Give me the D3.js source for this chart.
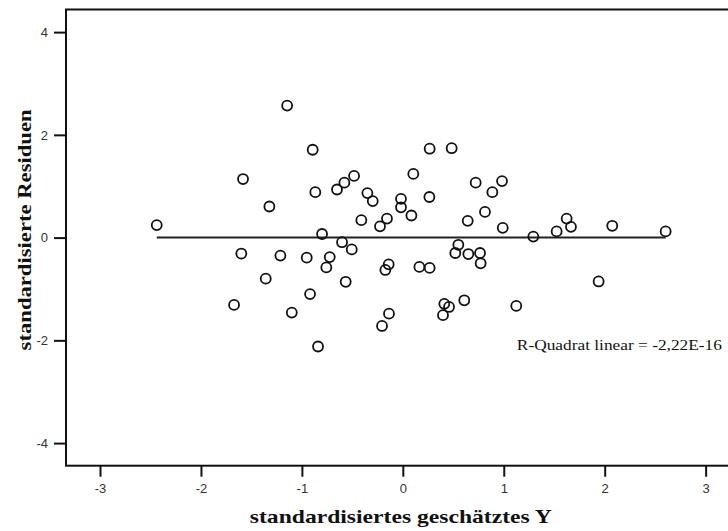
<!DOCTYPE html>
<html>
<head>
<meta charset="utf-8">
<script src="https://cdn.jsdelivr.net/npm/d3@7"></script>
<style>
  html, body { margin: 0; padding: 0; background: #fff; }
  svg { display: block; }
</style>
</head>
<body>
<svg id="chart" width="728" height="531"></svg>
<script>
// ---- data ----
const predicted = [
  -2.438, -1.672, -1.600, -1.583, -1.358, -1.322, -1.213, -1.146, -1.100, -0.952,
  -0.919, -0.893, -0.867, -0.840, -0.800, -0.758, -0.724, -0.652, -0.602, -0.579,
  -0.566, -0.506, -0.483, -0.411, -0.351, -0.298, -0.226, -0.206, -0.173, -0.157,
  -0.140, -0.137, -0.018, -0.018, 0.085, 0.104, 0.164, 0.263, 0.266, 0.266,
  0.398, 0.411, 0.458, 0.484, 0.520, 0.550, 0.609, 0.643, 0.649, 0.722,
  0.765, 0.771, 0.814, 0.887, 0.983, 0.990, 1.124, 1.293, 1.524, 1.623,
  1.666, 1.940, 2.075, 2.604
];
const residuals = [
  0.243, -1.310, -0.310, 1.140, -0.800, 0.605, -0.350, 2.570, -1.460, -0.390,
  -1.100, 1.710, 0.885, -2.120, 0.070, -0.580, -0.380, 0.936, -0.090, 1.070,
  -0.860, -0.230, 1.200, 0.340, 0.866, 0.710, 0.220, -1.720, -0.630, 0.370,
  -0.520, -1.480, 0.755, 0.590, 0.430, 1.240, -0.570, 0.790, 1.730, -0.590,
  -1.510, -1.290, -1.350, 1.740, -0.300, -0.140, -1.220, 0.327, -0.320, 1.070,
  -0.300, -0.500, 0.500, 0.885, 1.100, 0.190, -1.330, 0.020, 0.120, 0.370,
  0.210, -0.854, 0.230, 0.120
];
const xTicks = [-3, -2, -1, 0, 1, 2, 3];
const yTicks = [-4, -2, 0, 2, 4];
const xTitle = "standardisiertes geschätztes Y";
const yTitle = "standardisierte Residuen";
const fitLabel = "R-Quadrat linear = -2,22E-16";
const fitLine = { intercept: 0, slope: 0 };

// ---- layout ----
const svg = d3.select("#chart");
const x = d3.scaleLinear().domain([-3.337, 3.40]).range([66, 746]);
const y = d3.scaleLinear().domain([-4.44, 4.44]).range([465.7, 9.5]);

const points = predicted.map((p, i) => ({ x: p, y: residuals[i] }));
const hyphenFmt = d => String(d); // plain ASCII hyphen like the reference

// frame (plot area border)
svg.append("rect")
  .attr("x", x.range()[0]).attr("y", y.range()[1])
  .attr("width", x.range()[1] - x.range()[0])
  .attr("height", y.range()[0] - y.range()[1])
  .attr("fill", "#fff").attr("stroke", "#111").attr("stroke-width", 2);

// axes
const xAxis = d3.axisBottom(x).tickValues(xTicks).tickSize(11).tickPadding(7)
  .tickFormat(hyphenFmt);
const yAxis = d3.axisLeft(y).tickValues(yTicks).tickSize(12).tickPadding(6)
  .tickFormat(hyphenFmt);

const gx = svg.append("g").attr("transform", `translate(0,${y.range()[0]})`).call(xAxis);
const gy = svg.append("g").attr("transform", `translate(${x.range()[0]},0)`).call(yAxis);
[gx, gy].forEach(g => {
  g.select(".domain").remove();
  g.selectAll(".tick line").attr("stroke", "#111").attr("stroke-width", 2);
  g.selectAll(".tick text")
    .attr("fill", "#333")
    .style("font-family", "'Liberation Sans', Arial, sans-serif")
    .style("font-size", "13px");
});

// fit line across data range
const xe = d3.extent(predicted);
svg.append("line")
  .attr("x1", x(xe[0])).attr("x2", x(xe[1]))
  .attr("y1", y(fitLine.intercept + fitLine.slope * xe[0]))
  .attr("y2", y(fitLine.intercept + fitLine.slope * xe[1]))
  .attr("stroke", "#222").attr("stroke-width", 2);

// points
svg.append("g").selectAll("circle").data(points).join("circle")
  .attr("cx", d => x(d.x)).attr("cy", d => y(d.y))
  .attr("r", 5)
  .attr("fill", "none").attr("stroke", "#111").attr("stroke-width", 1.8);

// fit annotation
svg.append("text")
  .attr("x", x(1.13)).attr("y", y(-2.13))
  .attr("dominant-baseline", "middle")
  .attr("textLength", 205).attr("lengthAdjust", "spacingAndGlyphs")
  .style("font-family", "'Liberation Serif', 'Times New Roman', serif")
  .style("font-size", "14px")
  .attr("fill", "#111")
  .text(fitLabel);

// axis titles
svg.append("text")
  .attr("x", x(-0.02)).attr("y", 523)
  .attr("text-anchor", "middle")
  .attr("textLength", 302).attr("lengthAdjust", "spacingAndGlyphs")
  .style("font-family", "'Liberation Serif', 'Times New Roman', serif")
  .style("font-size", "19px").style("font-weight", "bold")
  .attr("fill", "#111")
  .text(xTitle);

svg.append("text")
  .attr("transform", `translate(31,${y(0.15)}) rotate(-90)`)
  .attr("text-anchor", "middle")
  .attr("textLength", 241).attr("lengthAdjust", "spacingAndGlyphs")
  .style("font-family", "'Liberation Serif', 'Times New Roman', serif")
  .style("font-size", "19px").style("font-weight", "bold")
  .attr("fill", "#111")
  .text(yTitle);
</script>
</body>
</html>
